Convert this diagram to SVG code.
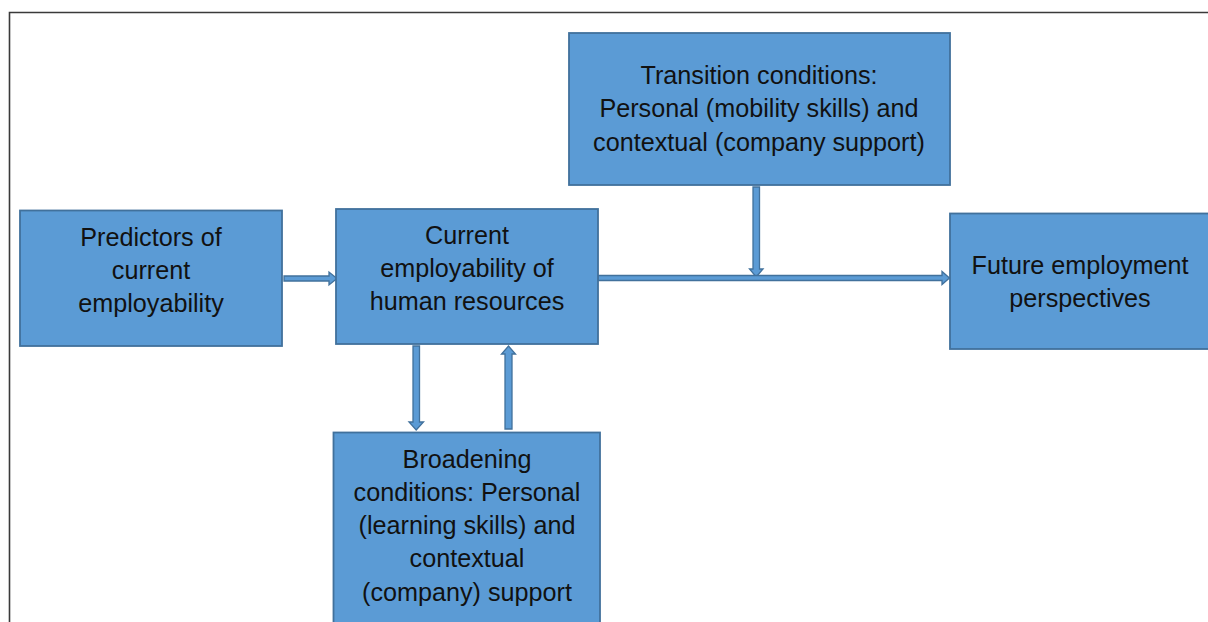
<svg xmlns="http://www.w3.org/2000/svg" width="1208" height="622" viewBox="0 0 1208 622">
  <style>
    .box { fill: #5B9BD5; stroke: #41719C; stroke-width: 1.8; }
    .arrow { fill: #5B9BD5; stroke: #41719C; stroke-width: 1.3; stroke-linejoin: miter; }
    .label { font-family: "Liberation Sans", Arial, sans-serif; font-size: 25.2px; fill: #111; text-anchor: middle; }
    .frame { fill: none; stroke: #3a3a3a; stroke-width: 1.6; }
  </style>

  <rect width="1208" height="622" fill="#ffffff"/>
  <!-- page frame -->
  <path class="frame" d="M9.5 623 V12.5 H1209"/>

  <g id="connectors">
    <!-- predictors to current employability -->
    <polygon class="arrow" points="284,276 329,276 329,272 337,278.5 329,285 329,281 284,281"/>
    <!-- current employability down to broadening conditions -->
    <polygon class="arrow" points="413,346 419.5,346 419.5,422 423.5,422 416.2,430 409,422 413,422"/>
    <!-- broadening conditions up to current employability -->
    <polygon class="arrow" points="505,429 512,429 512,354 515.5,354 508.5,346 501.5,354 505,354"/>
    <!-- transition conditions down onto the main line -->
    <polygon class="arrow" points="753,187 759.5,187 759.5,269 763,269 756.2,277 749.5,269 753,269"/>
    <!-- current employability to future perspectives -->
    <polygon class="arrow" points="598,275.5 942,275.5 942,271.5 949.5,278 942,284.5 942,280.5 598,280.5"/>
  </g>

  <g id="node-predictors">
    <rect class="box" x="20" y="210.5" width="262" height="135.5"/>
    <text class="label" x="151" y="246">Predictors of</text>
    <text class="label" x="151" y="279">current</text>
    <text class="label" x="151" y="312">employability</text>
  </g>

  <g id="node-current">
    <rect class="box" x="336" y="209" width="262" height="135"/>
    <text class="label" x="467" y="244">Current</text>
    <text class="label" x="467" y="277">employability of</text>
    <text class="label" x="467" y="310">human resources</text>
  </g>

  <g id="node-transition">
    <rect class="box" x="569" y="33" width="381" height="152"/>
    <text class="label" x="759" y="84">Transition conditions:</text>
    <text class="label" x="759" y="117">Personal (mobility skills) and</text>
    <text class="label" x="759" y="151">contextual (company support)</text>
  </g>

  <g id="node-future">
    <rect class="box" x="950" y="213.5" width="262" height="135.5"/>
    <text class="label" x="1080" y="274">Future employment</text>
    <text class="label" x="1080" y="307">perspectives</text>
  </g>

  <g id="node-broadening">
    <rect class="box" x="333.5" y="432.5" width="266.5" height="192"/>
    <text class="label" x="467" y="468">Broadening</text>
    <text class="label" x="467" y="501">conditions: Personal</text>
    <text class="label" x="467" y="534">(learning skills) and</text>
    <text class="label" x="467" y="567">contextual</text>
    <text class="label" x="467" y="601">(company) support</text>
  </g>
</svg>
